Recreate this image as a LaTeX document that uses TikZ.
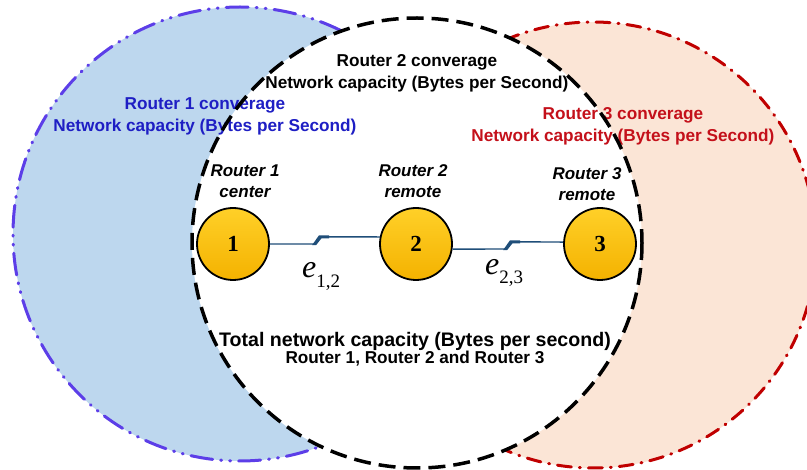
\documentclass[tikz,border=0pt]{standalone}
\usepackage{fontspec}
\setmainfont{Liberation Sans}
\newfontfamily\timesfont{Liberation Serif}
\definecolor{zoneblue}{RGB}{189,215,238}
\definecolor{zoneblueline}{RGB}{92,62,232}
\definecolor{zonebluetext}{RGB}{30,30,196}
\definecolor{zonepeach}{RGB}{251,229,214}
\definecolor{zonered}{RGB}{192,0,0}
\definecolor{zoneredtext}{RGB}{196,16,26}
\definecolor{linkblue}{RGB}{31,78,121}
\definecolor{goldtop}{RGB}{255,208,40}
\definecolor{goldbot}{RGB}{244,178,0}
\begin{document}
\begin{tikzpicture}[x=1pt,y=-1pt,
  router/.style={circle,minimum size=72pt,inner sep=0pt,draw=black,line width=1.8pt,
    top color=goldtop,bottom color=goldbot,
    font=\timesfont\bfseries\fontsize{23}{23}\selectfont},
  zonetext/.style={align=center,inner sep=0pt,font=\bfseries\fontsize{17.2}{22}\selectfont},
  roletext/.style={align=center,inner sep=0pt,font=\bfseries\itshape\fontsize{17}{21}\selectfont},
  link/.style={draw=linkblue,line width=1.4pt,line join=miter},
  bolt/.style={fill=linkblue},
  elabel/.style={anchor=base west,inner sep=0pt,font=\timesfont},
  ring/.style={line width=3pt,line cap=round}
]
\useasboundingbox (0,0) rectangle (807,470);

% coverage areas
\fill[zoneblue] (240,234) circle (227);
\fill[zonepeach] (593,245) circle (223);
\draw[ring,zoneblueline,dash pattern=on 22pt off 8pt on 1pt off 8pt on 1pt off 8pt] (240,234) circle (227);
\draw[ring,zonered,dash pattern=on 14pt off 8pt on 1pt off 8pt] (593,245) circle (223);
\fill[white] (417,243) circle (225);

% zone labels
\node[zonetext,text=zonebluetext] (z1) at (205,116) {Router 1 converage\\Network capacity (Bytes per Second)};
\node[zonetext] (z2) at (417,73) {Router 2 converage\\Network capacity (Bytes per Second)};
\node[zonetext,text=zoneredtext] (z3) at (623,126) {Router 3 converage\\Network capacity (Bytes per Second)};

% central coverage border
\draw[line width=3.5pt,dash pattern=on 17pt off 8pt] (417,243) circle (225);

% routers
\node[router] (r1) at (233,244) {1};
\node[router] (r2) at (416,244) {2};
\node[router] (r3) at (600,244) {3};

\node[roletext] (l1) at (245,181) {Router 1\\center};
\node[roletext] (l2) at (413,181) {Router 2\\remote};
\node[roletext] (l3) at (587,184) {Router 3\\remote};

% wireless links with a lightning step
\coordinate (b1a) at (315,244);
\coordinate (b1b) at (320,236.8);
\coordinate (b2a) at (506,249);
\coordinate (b2b) at (511,241.8);
\draw[link] (r1.east) -- (b1a) -- (b1b) -- (r2.169);
\fill[bolt] ([xshift=-3pt,yshift=-1.2pt]b1a) -- ([xshift=-1pt,yshift=1.5pt]b1b)
  -- ([xshift=9pt,yshift=1.5pt]b1b) -- ([xshift=9pt,yshift=-1.5pt]b1b)
  -- ([xshift=1.5pt,yshift=-1.5pt]b1b) -- ([xshift=1pt,yshift=-1.2pt]b1a) -- cycle;
\draw[link] (r2.-8) -- (b2a) -- (b2b) -- (r3.177);
\fill[bolt] ([xshift=-3pt,yshift=-1.2pt]b2a) -- ([xshift=-1pt,yshift=1.5pt]b2b)
  -- ([xshift=9pt,yshift=1.5pt]b2b) -- ([xshift=9pt,yshift=-1.5pt]b2b)
  -- ([xshift=1.5pt,yshift=-1.5pt]b2b) -- ([xshift=1pt,yshift=-1.2pt]b2a) -- cycle;

\node[elabel] (e12) at (302,278) {{\fontsize{32}{32}\selectfont\itshape e}\raisebox{-10pt}{\fontsize{19}{19}\selectfont 1,2}};
\node[elabel] (e23) at (485,275) {{\fontsize{32}{32}\selectfont\itshape e}\raisebox{-9pt}{\fontsize{19}{19}\selectfont 2,3}};

% total capacity
\node[align=center,inner sep=0pt] (tot) at (415,349)
  {{\bfseries\fontsize{19.6}{22}\selectfont Total network capacity (Bytes per second)}\\
   {\bfseries\fontsize{17.2}{21}\selectfont Router 1, Router 2 and Router 3}};
\end{tikzpicture}
\end{document}
